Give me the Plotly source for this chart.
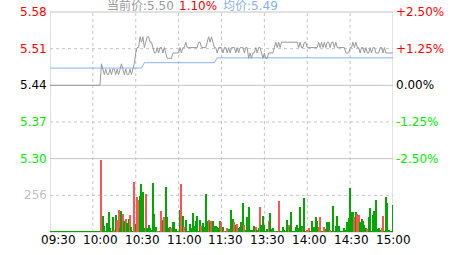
import plotly.graph_objects as go

# ---------------- data ----------------
prev_close = 5.44
cur_price = "5.50"
cur_pct = "1.10%"
avg_price = "5.49"

time_labels = ["09:30", "10:00", "10:30", "11:00", "11:30", "13:30", "14:00", "14:30", "15:00"]
left_labels = ["5.58", "5.51", "5.44", "5.37", "5.30"]
right_labels = ["+2.50%", "+1.25%", "0.00%", "-1.25%", "-2.50%"]
pct_levels = [2.5, 1.25, 0.0, -1.25, -2.5]
vol_label = "256"
vol_label_value = 256
vol_max = 512

price = (
    [5.44] * 36 +
    [5.48, 5.47, 5.46, 5.47, 5.46, 5.46, 5.47, 5.46, 5.47, 5.47, 5.46, 5.47, 5.46, 5.47, 5.48,
     5.47, 5.46, 5.47, 5.46, 5.46, 5.47, 5.46, 5.47,
     5.48, 5.50, 5.51, 5.51, 5.53, 5.52, 5.53, 5.51, 5.52, 5.53, 5.53, 5.52, 5.52, 5.51, 5.50,
     5.50, 5.51, 5.50, 5.51, 5.51, 5.50, 5.51, 5.50, 5.49, 5.49, 5.49, 5.49, 5.50, 5.50, 5.50,
     5.50, 5.50, 5.51, 5.50, 5.51, 5.51, 5.52, 5.51, 5.51, 5.51, 5.51, 5.51, 5.51, 5.51, 5.51,
     5.52, 5.52, 5.51, 5.51, 5.51, 5.51, 5.52, 5.53, 5.52, 5.53, 5.52, 5.51, 5.51, 5.50, 5.51,
     5.51, 5.51, 5.50, 5.51, 5.51, 5.50, 5.51, 5.50, 5.51, 5.51, 5.51, 5.50, 5.51, 5.50, 5.51,
     5.51, 5.51, 5.50, 5.51, 5.51, 5.49, 5.50, 5.49, 5.50, 5.50, 5.51, 5.50, 5.51, 5.51, 5.50,
     5.49, 5.50, 5.49, 5.49, 5.50, 5.50, 5.50, 5.50, 5.51, 5.52, 5.51, 5.52, 5.51, 5.52, 5.52,
     5.52, 5.52, 5.52, 5.52, 5.52, 5.52, 5.52, 5.52, 5.52, 5.52,
     5.51, 5.52, 5.51, 5.51, 5.52, 5.52, 5.51, 5.51, 5.51, 5.51, 5.51, 5.51, 5.51, 5.51, 5.52,
     5.51, 5.52, 5.51, 5.52, 5.51, 5.52, 5.52, 5.51, 5.52, 5.52, 5.51, 5.52, 5.51, 5.51, 5.51,
     5.51, 5.51, 5.51, 5.50, 5.50, 5.50, 5.51, 5.51, 5.52, 5.51, 5.52, 5.51, 5.51, 5.50, 5.51,
     5.51, 5.50, 5.51, 5.50, 5.50, 5.51, 5.50, 5.51, 5.51, 5.50, 5.50, 5.50, 5.51, 5.51, 5.50,
     5.51, 5.50, 5.50, 5.50, 5.50, 5.50, 5.50]
)

avg_x = [0, 64, 66, 115, 117, 240]
avg_y = [5.472, 5.472, 5.482, 5.482, 5.491, 5.491]

volume = (
    [4] * 36 +
    [508, 116, 46, 12, 62, 139, 30, 12, 104, 16, 122, 88, 157, 30, 150, 127, 81, 92, 62, 92,
     122, 39, 12, 353, 58, 247, 226, 254, 335, 282, 30, 270, 30, 53, 30, 16, 342, 127, 39, 12,
     12, 12, 150, 88, 109, 316, 109, 30, 39, 30, 74, 74, 23, 7, 12, 155, 335, 116, 35, 85,
     12, 7, 58, 30,
     132, 46, 76, 116, 12, 88, 46, 62, 39, 270, 81, 88, 69, 81, 76, 46, 46, 39, 30, 76,
     69, 39, 12, 12, 30, 23, 16, 157, 92, 69, 53, 58, 30, 39, 69, 208, 53, 18, 109, 178,
     12, 16, 18, 46, 35, 16, 30, 178, 53, 116, 53, 7, 23, 81, 132, 23, 28, 12, 12, 12,
     219, 12, 12, 39, 16, 12, 88, 53, 39,
     143, 12, 12, 39, 53, 30, 178, 46, 30, 243, 12, 18, 30, 12, 76, 30, 35, 104, 76, 39,
     104, 12, 12, 39, 23, 74, 74, 18, 12, 185, 12, 46, 116, 46, 12, 12, 12, 30, 18, 69,
     97, 310, 143, 139, 104, 143, 127, 122, 69, 92, 81, 53, 30, 23, 104, 169, 12, 122, 150, 224,
     23, 30, 18, 30, 116, 12, 247, 208, 16, 12, 5, 192]
)

# 1 = up (red), -1 = down (green)
vol_dir = (
    [-1] * 36 +
    [1, -1, -1, -1, -1, -1, -1, -1, -1, 1, -1, 1, 1, -1, -1, 1, -1, 1, -1, -1,
     1, -1, -1, 1, -1, 1, 1, -1, -1, -1, -1, 1, -1, -1, -1, -1, -1, -1, -1, 1,
     1, -1, 1, -1, 1, -1, -1, -1, -1, 1, -1, -1, -1, -1, -1, -1, 1, -1, 1, -1,
     -1, -1, -1, -1,
     -1, -1, -1, -1, -1, -1, 1, -1, -1, -1, -1, 1, -1, 1, -1, -1, -1, -1, -1, -1,
     1, -1, 1, -1, 1, -1, -1, -1, -1, 1, -1, 1, -1, -1, -1, -1, 1, -1, -1, -1,
     -1, -1, -1, -1, 1, -1, -1, 1, -1, -1, -1, -1, -1, 1, -1, -1, -1, -1, 1, -1,
     1, -1, -1, -1, -1, -1, -1, 1, -1,
     -1, -1, -1, -1, -1, -1, -1, -1, 1, -1, -1, 1, 1, -1, -1, -1, -1, -1, -1, 1,
     1, -1, -1, 1, -1, -1, -1, 1, -1, -1, -1, -1, -1, -1, -1, -1, -1, -1, -1, -1,
     -1, -1, -1, -1, 1, -1, 1, 1, -1, -1, -1, -1, -1, 1, -1, -1, -1, -1, -1, -1,
     -1, -1, -1, 1, 1, -1, -1, -1, -1, -1, -1, -1]
)

minutes = list(range(len(price)))

# ---------------- styling ----------------
RED = "#ff0000"
LIME = "#00ee00"
BAR_RED = "#ff5252"
BAR_GREEN = "#00a800"
GRID = "#c4c4c4"
FONT = "DejaVu Sans, Noto Sans CJK SC"

W, H = 463, 255
ML, MR, MT, MB = 50, 70, 12, 23
PW, PH = W - ML - MR, H - MT - MB

def px_x(p):
    return (p - ML) / PW

def px_y(p):
    return (H - MB - p) / PH

bar_colors = [BAR_RED if d > 0 else BAR_GREEN for d in vol_dir]
price_lo = prev_close * (1 - 0.025)
price_hi = prev_close * (1 + 0.025)

fig = go.Figure()
fig.add_trace(go.Bar(x=minutes, y=volume, marker=dict(color=bar_colors, line=dict(width=0)),
                     width=0.75, yaxis="y2", hoverinfo="skip"))
fig.add_trace(go.Scatter(x=avg_x, y=avg_y, mode="lines",
                         line=dict(color="#8ab0f0", width=1), yaxis="y"))
fig.add_trace(go.Scatter(x=minutes, y=price, mode="lines",
                         line=dict(color="#999999", width=1), yaxis="y"))

shapes = []
for k in range(7):
    solid = k % 2 == 0
    shapes.append(dict(type="line", xref="paper", yref="paper", x0=0, x1=1, y0=k / 6, y1=k / 6,
                       line=dict(color=GRID, width=1, dash="solid" if solid else "3px,3px"),
                       layer="below"))
for i in range(len(time_labels)):
    solid = i == 0 or i == len(time_labels) - 1
    shapes.append(dict(type="line", xref="x", yref="paper", x0=30 * i, x1=30 * i, y0=0, y1=1,
                       line=dict(color=GRID, width=1, dash="solid" if solid else "3px,3px"),
                       layer="below"))

ann = []
for lab, pc in zip(left_labels, pct_levels):
    col = RED if pc > 0 else (LIME if pc < 0 else "#000000")
    ann.append(dict(x=px_x(49), xref="paper", y=prev_close * (1 + pc / 100), yref="y",
                    text=lab, showarrow=False, xanchor="right", yanchor="middle",
                    font=dict(family=FONT, size=12, color=col)))
for lab, pc in zip(right_labels, pct_levels):
    col = RED if pc > 0 else (LIME if pc < 0 else "#000000")
    ann.append(dict(x=px_x(394), xref="paper", y=prev_close * (1 + pc / 100), yref="y",
                    text=lab, showarrow=False, xanchor="left", yanchor="middle",
                    font=dict(family=FONT, size=12, color=col)))
ann.append(dict(x=px_x(49), xref="paper", y=vol_label_value, yref="y2", text=vol_label,
                showarrow=False, xanchor="right", yanchor="middle",
                font=dict(family=FONT, size=12, color="#c0c0c0")))
for i, lab in enumerate(time_labels):
    ann.append(dict(x=px_x(58.2 + 41.94 * i), xref="paper", y=px_y(239.5), yref="paper",
                    text=lab, showarrow=False, xanchor="center", yanchor="middle",
                    font=dict(family=FONT, size=12, color="#000000")))
header = [("当前价:" + cur_price, "#999999", 104.5), (cur_pct, RED, 177), ("均价:" + avg_price, "#8ab0f0", 220.5)]
for txt, col, xp in header:
    ann.append(dict(x=px_x(xp), xref="paper", y=px_y(5.5), yref="paper", text=txt,
                    showarrow=False, xanchor="left", yanchor="middle",
                    font=dict(family=FONT, size=12, color=col)))

fig.update_layout(
    width=W, height=H, margin=dict(l=ML, r=MR, t=MT, b=MB, pad=0),
    paper_bgcolor="white", plot_bgcolor="white", showlegend=False,
    bargap=0,
    xaxis=dict(range=[0, 240], showgrid=False, zeroline=False, showticklabels=False,
               showline=False, fixedrange=True),
    yaxis=dict(domain=[1 / 3, 1], range=[price_lo, price_hi], showgrid=False, zeroline=False,
               showticklabels=False, showline=False),
    yaxis2=dict(domain=[0, 1 / 3], range=[0, vol_max], showgrid=False, zeroline=False,
                showticklabels=False, showline=False),
    shapes=shapes, annotations=ann,
)

fig.write_html("out.html", config={"displayModeBar": False})
